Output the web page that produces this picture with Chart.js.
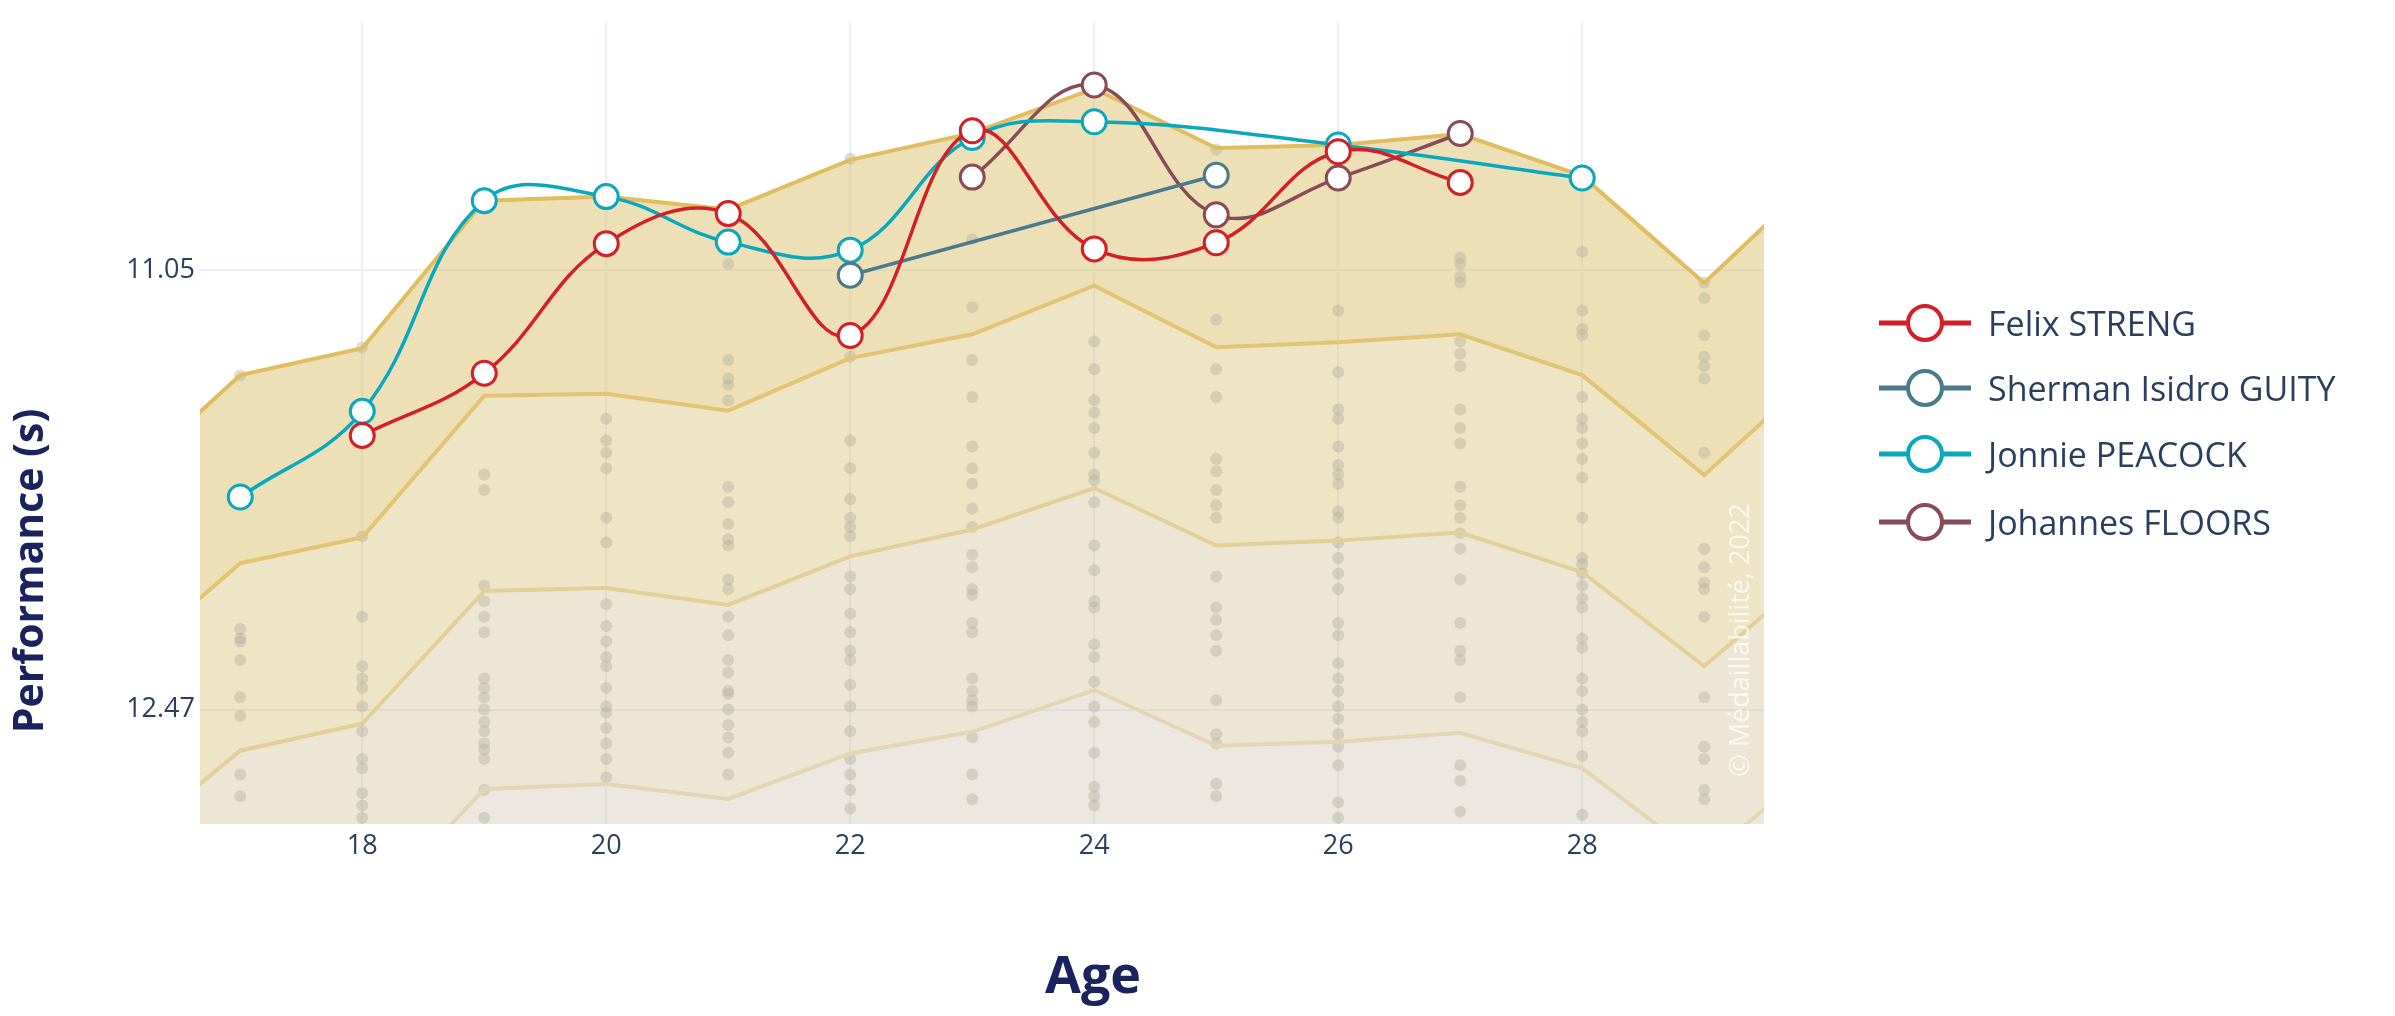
<!DOCTYPE html>
<html>
<head>
<meta charset="utf-8">
<title>Performance by age</title>
<script src="https://cdn.jsdelivr.net/npm/chart.js@4.4.0/dist/chart.umd.min.js"></script>
<style>
  body { margin: 0; background: #fff; }
  #wrap { position: relative; width: 2395px; height: 1016px; }
  #legend { position: absolute; left: 1879px; top: 0; font-family: "Open Sans", sans-serif; font-size: 34px; color: #2a3f5f; }
  .item { position: absolute; left: 0; height: 66px; display: flex; align-items: center; white-space: nowrap; }
  .item svg { margin-right: 17px; }
</style>
</head>
<body>
<div id="wrap">
  <canvas id="chart" width="2395" height="1016"></canvas>
  <div id="legend"></div>
</div>
<script>
// percentile bands, ages 16..30 (16 and 30 only run off the plot edges)
const bandAges = [16, 17, 18, 19, 20, 21, 22, 23, 24, 25, 26, 27, 28, 29, 30];
const band1 = [11.750, 11.389, 11.302, 10.825, 10.812, 10.854, 10.693, 10.607, 10.463, 10.655, 10.645, 10.610, 10.745, 11.091, 10.719];
const band2 = [12.340, 11.997, 11.914, 11.456, 11.449, 11.504, 11.334, 11.257, 11.100, 11.299, 11.283, 11.257, 11.389, 11.712, 11.353];
const band3 = [12.929, 12.603, 12.516, 12.087, 12.077, 12.132, 11.975, 11.888, 11.754, 11.940, 11.924, 11.898, 12.026, 12.330, 11.991];
const band4 = [13.499, 13.227, 13.147, 12.727, 12.711, 12.759, 12.612, 12.542, 12.407, 12.587, 12.574, 12.545, 12.660, 12.958, 12.619];

// athletes
const felixAges = [18, 19, 20, 21, 22, 23, 24, 25, 26, 27];
const felixTimes = [11.584, 11.383, 10.964, 10.867, 11.261, 10.599, 10.981, 10.961, 10.667, 10.766];
const shermanAges = [22, 25];
const shermanTimes = [11.066, 10.743];
const jonnieAges = [17, 18, 19, 20, 21, 22, 23, 24, 26, 28];
const jonnieTimes = [11.783, 11.506, 10.825, 10.812, 10.959, 10.985, 10.621, 10.570, 10.645, 10.752];
const floorsAges = [23, 24, 25, 26, 27];
const floorsTimes = [10.749, 10.451, 10.871, 10.752, 10.608];

// everyone else (grey dots)
const fieldAges = [17, 18, 19, 20, 21, 22, 23, 24, 25, 26, 27, 28, 29];
const fieldTimes = [
  [11.39, 12.21, 12.24, 12.25, 12.31, 12.43, 12.49, 12.68, 12.75],
  [11.30, 11.91, 12.17, 12.33, 12.37, 12.40, 12.46, 12.54, 12.63, 12.66, 12.74, 12.78, 12.82],
  [11.71, 11.76, 12.07, 12.12, 12.17, 12.22, 12.37, 12.40, 12.43, 12.47, 12.51, 12.54, 12.58, 12.60, 12.63, 12.73, 12.82],
  [11.53, 11.60, 11.64, 11.69, 11.85, 11.93, 12.13, 12.20, 12.25, 12.30, 12.33, 12.40, 12.46, 12.48, 12.53, 12.58, 12.63, 12.69],
  [11.03, 11.34, 11.40, 11.42, 11.47, 11.75, 11.80, 11.87, 11.92, 11.94, 12.05, 12.08, 12.17, 12.23, 12.31, 12.35, 12.41, 12.42, 12.47, 12.52, 12.56, 12.61, 12.68],
  [10.69, 11.33, 11.60, 11.69, 11.79, 11.85, 11.88, 11.91, 12.04, 12.08, 12.16, 12.22, 12.28, 12.31, 12.39, 12.46, 12.54, 12.63, 12.68, 12.73, 12.79],
  [10.95, 11.17, 11.34, 11.46, 11.62, 11.69, 11.74, 11.82, 11.88, 11.97, 12.01, 12.08, 12.10, 12.19, 12.22, 12.37, 12.41, 12.44, 12.46, 12.56, 12.68, 12.76],
  [11.28, 11.37, 11.47, 11.51, 11.56, 11.64, 11.71, 11.73, 11.80, 11.94, 12.02, 12.12, 12.14, 12.26, 12.30, 12.38, 12.46, 12.51, 12.61, 12.72, 12.75, 12.78],
  [10.66, 11.21, 11.37, 11.46, 11.66, 11.70, 11.76, 11.81, 11.85, 12.04, 12.14, 12.18, 12.23, 12.28, 12.44, 12.55, 12.58, 12.71, 12.75],
  [11.18, 11.38, 11.50, 11.53, 11.62, 11.68, 11.71, 11.74, 11.83, 11.85, 11.93, 11.98, 12.03, 12.08, 12.19, 12.23, 12.32, 12.37, 12.41, 12.46, 12.50, 12.55, 12.59, 12.65, 12.77, 12.82],
  [11.01, 11.03, 11.07, 11.09, 11.28, 11.32, 11.36, 11.50, 11.56, 11.61, 11.75, 11.81, 11.85, 11.90, 11.95, 12.05, 12.19, 12.28, 12.31, 12.43, 12.65, 12.70, 12.80],
  [10.99, 11.18, 11.24, 11.26, 11.46, 11.53, 11.56, 11.61, 11.66, 11.72, 11.85, 11.98, 12.00, 12.03, 12.07, 12.11, 12.14, 12.24, 12.27, 12.37, 12.41, 12.47, 12.51, 12.54, 12.62, 12.81],
  [11.09, 11.14, 11.26, 11.33, 11.36, 11.40, 11.64, 11.95, 12.01, 12.06, 12.08, 12.17, 12.43, 12.59, 12.63, 12.73, 12.76]
];

const xTicks = [18, 20, 22, 24, 26, 28];
const yTicks = [11.05, 12.47];

const pts = (xs, ys) => xs.map((x, i) => ({ x: x, y: ys[i] }));
const fieldPoints = fieldAges.flatMap((a, i) => fieldTimes[i].map(t => ({ x: a, y: t })));

const athletes = [
  { label: "Felix STRENG", color: "#d51f27", data: pts(felixAges, felixTimes) },
  { label: "Sherman Isidro GUITY", color: "#4a7b8b", data: pts(shermanAges, shermanTimes) },
  { label: "Jonnie PEACOCK", color: "#0aa8bd", data: pts(jonnieAges, jonnieTimes) },
  { label: "Johannes FLOORS", color: "#8a4b58", data: pts(floorsAges, floorsTimes) }
];

const athleteSets = athletes.map(a => ({
  type: "line",
  label: a.label,
  data: a.data,
  borderColor: a.color,
  borderWidth: 3.5,
  backgroundColor: "#ffffff",
  pointBackgroundColor: "#ffffff",
  pointBorderColor: a.color,
  pointBorderWidth: 3,
  pointRadius: 12,
  tension: 0.4,
  fill: false,
  order: 0
}));

function band(data, line, fill, target) {
  return {
    type: "line",
    data: pts(bandAges, data),
    borderColor: line,
    borderWidth: 4,
    pointRadius: 0,
    tension: 0,
    backgroundColor: fill,
    fill: target,
    order: 5
  };
}

const bandSets = [
  band(band1, "#e0bd5f", "rgba(215,185,90,0.44)", "+1"),
  band(band2, "#e2c473", "rgba(210,185,105,0.38)", "+1"),
  band(band3, "#e3cf97", "rgba(200,180,130,0.335)", "+1"),
  band(band4, "#e3d6b4", "rgba(200,190,170,0.35)", { value: 14 })
];

const dotSet = {
  type: "scatter",
  data: fieldPoints,
  backgroundColor: "rgba(185,178,160,0.45)",
  borderWidth: 0,
  pointRadius: 6,
  showLine: false,
  order: 10
};

const textPlugin = {
  id: "texts",
  afterDraw(chart) {
    const ctx = chart.ctx;
    ctx.save();
    ctx.fillStyle = "rgba(255,255,255,0.7)";
    ctx.font = '27px "Open Sans"';
    ctx.textAlign = "center";
    ctx.textBaseline = "middle";
    ctx.translate(1741, 640);
    ctx.rotate(-Math.PI / 2);
    ctx.fillText("© Médaillabilité, 2022", 0, 0);
    ctx.restore();

    ctx.save();
    ctx.fillStyle = "#1b235e";
    ctx.textAlign = "center";
    ctx.textBaseline = "middle";
    ctx.font = 'bold 52px "Open Sans"';
    ctx.fillText("Age", 1093, 978);
    ctx.translate(31, 571);
    ctx.rotate(-Math.PI / 2);
    ctx.font = 'bold 41px "Open Sans"';
    ctx.fillText("Performance (s)", 0, 0);
    ctx.restore();
  }
};

const tickFont = { family: "Open Sans", size: 27 };

new Chart(document.getElementById("chart"), {
  data: { datasets: athleteSets.concat(bandSets, [dotSet]) },
  options: {
    responsive: false,
    animation: false,
    devicePixelRatio: 1,
    layout: { padding: { left: 0, top: 12, right: 631, bottom: 0 } },
    plugins: {
      legend: { display: false },
      tooltip: { enabled: false },
      filler: { drawTime: "beforeDatasetsDraw" }
    },
    scales: {
      x: {
        type: "linear",
        min: 16.67,
        max: 29.49,
        afterBuildTicks(s) { s.ticks = xTicks.map(v => ({ value: v })); },
        afterFit(s) { s.height = 192; },
        grid: { color: "#ebf0f8", lineWidth: 2, drawTicks: false },
        border: { display: false },
        ticks: { font: tickFont, color: "#2a3f5f", padding: 6, maxRotation: 0 }
      },
      y: {
        type: "linear",
        reverse: true,
        min: 10.245,
        max: 12.84,
        afterBuildTicks(s) { s.ticks = yTicks.map(v => ({ value: v })); },
        afterFit(s) { s.width = 200; },
        grid: { color: "#ebf0f8", lineWidth: 2, drawTicks: false },
        border: { display: false },
        ticks: { font: tickFont, color: "#2a3f5f", padding: 5, callback: v => v.toFixed(2) }
      }
    }
  },
  plugins: [textPlugin]
});

// legend
const legend = document.getElementById("legend");
const rowCentres = [323, 388, 454, 522];
athletes.forEach((a, i) => {
  const row = document.createElement("div");
  row.className = "item";
  row.style.top = (rowCentres[i] - 33) + "px";
  row.innerHTML =
    '<svg width="92" height="42" viewBox="0 0 92 42">' +
    '<line x1="0" y1="21" x2="92" y2="21" stroke="' + a.color + '" stroke-width="5"/>' +
    '<circle cx="46" cy="21" r="17" fill="#fff" stroke="' + a.color + '" stroke-width="4"/>' +
    "</svg><span>" + a.label + "</span>";
  legend.appendChild(row);
});
</script>
</body>
</html>
